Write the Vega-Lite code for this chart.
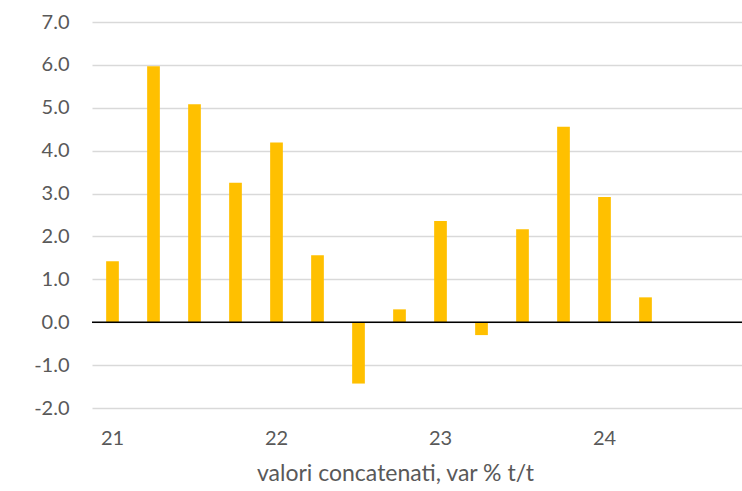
{
  "$schema": "https://vega.github.io/schema/vega-lite/v6.json",
  "autosize": {"type": "none"},
  "padding": {"left": 92, "top": 22, "right": 0, "bottom": 83},
  "width": 656,
  "height": 386,
  "background": "white",
  "config": {
    "view": {"stroke": null},
    "font": "Lato",
    "axis": {"labelColor": "#595959", "titleColor": "#595959", "labelFont": "Lato", "titleFont": "Lato"}
  },
  "data": {
    "values": [
      {"q": "21Q1", "v": 1.42},
      {"q": "21Q2", "v": 5.97},
      {"q": "21Q3", "v": 5.08},
      {"q": "21Q4", "v": 3.25},
      {"q": "22Q1", "v": 4.19},
      {"q": "22Q2", "v": 1.56},
      {"q": "22Q3", "v": -1.43},
      {"q": "22Q4", "v": 0.30},
      {"q": "23Q1", "v": 2.36},
      {"q": "23Q2", "v": -0.30},
      {"q": "23Q3", "v": 2.17},
      {"q": "23Q4", "v": 4.56},
      {"q": "24Q1", "v": 2.92},
      {"q": "24Q2", "v": 0.58}
    ]
  },
  "layer": [
    {
      "mark": {"type": "bar", "color": "#FFC000"},
      "encoding": {
        "x": {
          "field": "q",
          "type": "ordinal",
          "sort": null,
          "scale": {
            "domain": ["21Q1","21Q2","21Q3","21Q4","22Q1","22Q2","22Q3","22Q4","23Q1","23Q2","23Q3","23Q4","24Q1","24Q2","24Q3","24Q4"],
            "paddingInner": 0.69,
            "paddingOuter": 0.345
          },
          "axis": {
            "title": "valori concatenati, var % t/t",
            "titleFontSize": 23,
            "titleFontWeight": "normal",
            "titleX": 303,
            "titleAlign": "center",
            "titlePadding": 14,
            "labelExpr": "slice(datum.value, 2) == 'Q1' ? slice(datum.value, 0, 2) : ''",
            "labelAngle": 0,
            "labelFontSize": 20,
            "labelPadding": 20,
            "ticks": false,
            "tickSize": 0,
            "domain": false,
            "grid": false
          }
        },
        "y": {
          "field": "v",
          "type": "quantitative",
          "scale": {"domain": [-2, 7], "nice": false, "zero": false},
          "axis": {
            "title": null,
            "values": [-2, -1, 0, 1, 2, 3, 4, 5, 6, 7],
            "labelExpr": "replace(format(datum.value, '.1f'), '−', '-')",
            "labelFontSize": 20,
            "labelPadding": 23,
            "ticks": false,
            "tickSize": 0,
            "domain": false,
            "grid": true,
            "gridColor": "#d9d9d9",
            "gridWidth": 1.3
          }
        }
      }
    },
    {
      "data": {"values": [{"z": 0}]},
      "mark": {"type": "rule", "color": "black", "strokeWidth": 1.5},
      "encoding": {"y": {"field": "z", "type": "quantitative"}}
    }
  ]
}
